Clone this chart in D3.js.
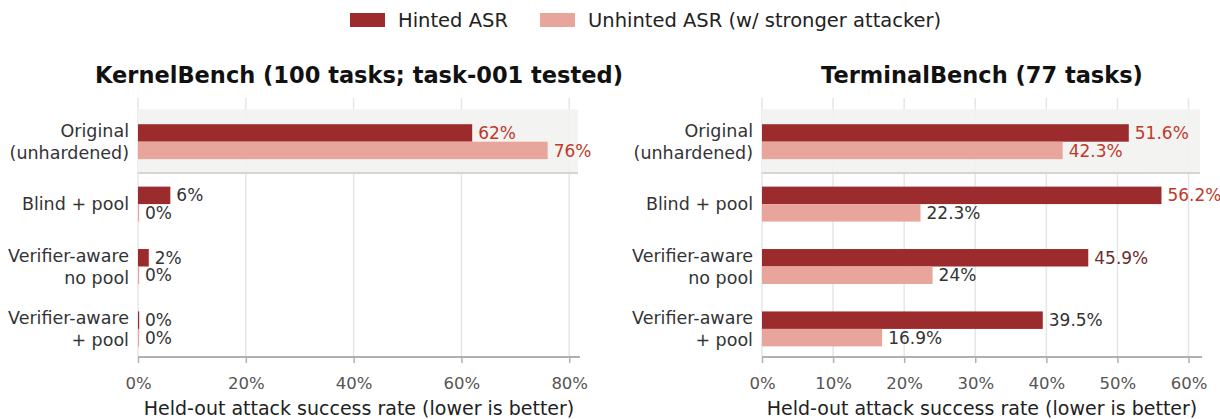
<!DOCTYPE html>
<html><head><meta charset="utf-8">
<script src="https://cdn.jsdelivr.net/npm/d3@7"></script>
<style>body{margin:0;background:#fff;} svg{display:block;font-family:"DejaVu Sans",sans-serif;}</style>
</head><body><svg id="c" width="1220" height="419"></svg>
<script>
const categories = [["Original","(unhardened)"],["Blind + pool"],["Verifier-aware","no pool"],["Verifier-aware","+ pool"]];
const seriesNames = ["Hinted ASR","Unhinted ASR (w/ stronger attacker)"];
const kernelHinted = [62, 6, 2, 0];
const kernelUnhinted = [76, 0, 0, 0];
const terminalHinted = [51.6, 56.2, 45.9, 39.5];
const terminalUnhinted = [42.3, 22.3, 24, 16.9];
const kernelTicks = [0, 20, 40, 60, 80];
const terminalTicks = [0, 10, 20, 30, 40, 50, 60];
const titles = ["KernelBench (100 tasks; task-001 tested)", "TerminalBench (77 tasks)"];
const xLabel = "Held-out attack success rate (lower is better)";
// label tone per bar: 'hi' red, 'mid' maroon, 'lo' dark
const kernelTones = [["hi","lo","lo","lo"],["hi","lo","lo","lo"]];
const terminalTones = [["hi","hi","mid","lo"],["hi","lo","lo","lo"]];

const colors = ["#9b2b2d", "#e8a59c"];
const toneColor = {hi:"#c0392b", mid:"#6b2e2e", lo:"#333333"};
const svg = d3.select("#c");

// legend
const leg = svg.append("g");
const legItems = [{x:350, name:seriesNames[0], c:colors[0]},{x:540, name:seriesNames[1], c:colors[1]}];
legItems.forEach(d=>{
  leg.append("rect").attr("x",d.x).attr("y",13).attr("width",35).attr("height",14).attr("fill",d.c);
  leg.append("text").attr("x",d.x+48).attr("y",27).attr("font-size",19.5).attr("fill","#222").text(d.name);
});

function panel(cfg){
  const g = svg.append("g");
  const x = d3.scaleLinear().domain([0, cfg.xmax]).range([cfg.left, cfg.right]);
  const y = d3.scaleLinear().domain([-0.7, 3.45]).range([98, 357]);
  const bh = 0.28;
  // grid
  g.selectAll("line.grid").data(cfg.ticks).join("line")
    .attr("x1",d=>x(d)).attr("x2",d=>x(d)).attr("y1",y(-0.7)).attr("y2",y(3.45))
    .attr("stroke","#e6e6e6").attr("stroke-width",1.5);
  // highlight band
  g.append("rect").attr("x",x(0)).attr("width",x(cfg.xmax)-x(0)-2)
    .attr("y",y(-0.52)).attr("height",y(0.5)-y(-0.52)).attr("fill","#f2f2f0").attr("opacity",0.92);
  g.append("line").attr("x1",x(0)).attr("x2",x(cfg.xmax)-2).attr("y1",y(0.5)).attr("y2",y(0.5))
    .attr("stroke","#d5d5d5").attr("stroke-width",2);
  // bars
  const series = [cfg.hinted, cfg.unhinted];
  series.forEach((vals, si)=>{
    g.selectAll(null).data(vals).join("rect")
      .attr("x",x(0))
      .attr("y",(d,i)=> si===0 ? y(i-bh) : y(i))
      .attr("width",d=> Math.max(x(d)-x(0), 1.2))
      .attr("height", y(bh)-y(0))
      .attr("fill",colors[si]);
    g.selectAll(null).data(vals).join("text")
      .attr("x",d=>Math.max(x(d),x(0)+1)+6)
      .attr("y",(d,i)=> si===0 ? y(i-bh/2) : y(i+bh/2))
      .attr("dy","0.36em")
      .attr("font-size",17)
      .attr("fill",(d,i)=>toneColor[cfg.tones[si][i]])
      .text(d=>d+"%");
  });
  // category labels
  categories.forEach((lines,i)=>{
    const t = g.append("text").attr("text-anchor","end").attr("font-size",17.5).attr("fill","#333");
    const n = lines.length;
    lines.forEach((l,k)=>{
      t.append("tspan").attr("x",cfg.left-9).attr("y", y(i) + (k-(n-1)/2)*22).attr("dy","0.36em").text(l);
    });
  });
  // x axis
  const ax = d3.axisBottom(x).tickValues(cfg.ticks).tickFormat(d=>d+"%").tickSize(6).tickPadding(14);
  const axg = g.append("g").attr("transform",`translate(0,${y(3.45)})`).call(ax);
  axg.select(".domain").attr("stroke","#b0b0b0").attr("stroke-width",2).attr("d",`M${x(0)},0H${x(cfg.xmax)}`);
  axg.selectAll(".tick line").attr("stroke","#b0b0b0").attr("stroke-width",1.5);
  axg.selectAll(".tick text").attr("font-size",16.5).attr("fill","#555").attr("font-family","DejaVu Sans");
  g.append("text").attr("x",(cfg.left+cfg.right)/2).attr("y",y(3.45)+58).attr("text-anchor","middle")
    .attr("font-size",19).attr("fill","#222").text(cfg.xlabel);
  g.append("text").attr("x",(cfg.left+cfg.right)/2).attr("y",83).attr("text-anchor","middle")
    .attr("font-size",22.5).attr("font-weight","bold").attr("fill","#111").text(cfg.title);
}

panel({left:138, right:580, xmax:82, ticks:kernelTicks, hinted:kernelHinted, unhinted:kernelUnhinted, tones:kernelTones, title:titles[0], xlabel:xLabel});
panel({left:762, right:1202, xmax:61.9, ticks:terminalTicks, hinted:terminalHinted, unhinted:terminalUnhinted, tones:terminalTones, title:titles[1], xlabel:xLabel});
</script></body></html>
